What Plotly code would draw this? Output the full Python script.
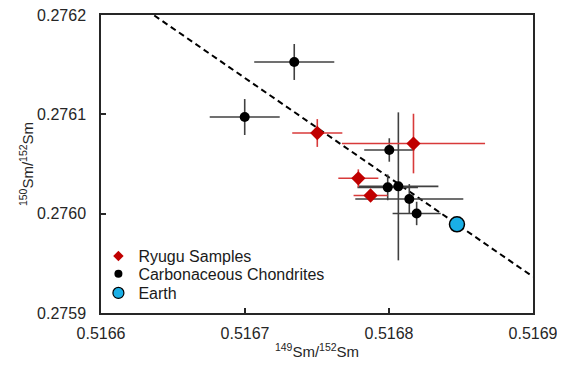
import plotly.graph_objects as go

# Ryugu samples
ryugu_x = [0.5167502, 0.5168170, 0.5167787, 0.5167872]
ryugu_y = [0.2760812, 0.2760706, 0.2760356, 0.2760183]
ryugu_xerr = [0.0000174, 0.0000497, 0.0000139, 0.0000118]
ryugu_yerr = [0.0000140, 0.0000300, 0.0000090, 0.0000040]

# Carbonaceous chondrites
cc_x = [0.5167342, 0.5166998, 0.5168002, 0.5167991, 0.5168065, 0.5168141, 0.5168192]
cc_y = [0.2761527, 0.2760973, 0.2760641, 0.2760265, 0.2760275, 0.2760148, 0.2760002]
cc_xerr = [0.0000278, 0.0000243, 0.0000174, 0.0000210, 0.0000278, 0.0000375, 0.0000167]
cc_yerr = [0.0000181, 0.0000181, 0.0000118, 0.0000130, 0.0000745, 0.0000150, 0.0000118]

# Earth
earth_x = [0.5168472]
earth_y = [0.2759893]

# Reference line (slope -1 through Earth)
line_x = [0.516637, 0.5169]
line_slope = -1.0
line_y = [earth_y[0] + line_slope * (x - earth_x[0]) for x in line_x]

x_ticks = [0.5166, 0.5167, 0.5168, 0.5169]
y_ticks = [0.2759, 0.2760, 0.2761, 0.2762]

FONT = "Arial, Liberation Sans, sans-serif"

fig = go.Figure()

fig.add_trace(go.Scatter(
    x=line_x, y=line_y, mode="lines",
    line=dict(color="black", width=2, dash="6px,4px"),
    showlegend=False, hoverinfo="skip"))

fig.add_trace(go.Scatter(
    x=cc_x, y=cc_y, mode="markers",
    marker=dict(color="black", size=10, symbol="circle"),
    error_x=dict(type="data", array=cc_xerr, color="#404040", thickness=1.6, width=0),
    error_y=dict(type="data", array=cc_yerr, color="#404040", thickness=1.6, width=0),
    showlegend=False))

fig.add_trace(go.Scatter(
    x=ryugu_x, y=ryugu_y, mode="markers",
    marker=dict(color="#C00000", size=11, symbol="diamond"),
    error_x=dict(type="data", array=ryugu_xerr, color="#D83A3A", thickness=1.6, width=0),
    error_y=dict(type="data", array=ryugu_yerr, color="#D83A3A", thickness=1.6, width=0),
    showlegend=False))

fig.add_trace(go.Scatter(
    x=earth_x, y=earth_y, mode="markers",
    marker=dict(color="#1AAFE6", size=15, symbol="circle", line=dict(color="black", width=1.5)),
    showlegend=False))

# legend entries (one legend each, for exact row spacing)
fig.add_trace(go.Scatter(x=[None], y=[None], mode="markers", name="Ryugu Samples",
                         marker=dict(color="#C00000", size=8, symbol="diamond"),
                         legend="legend"))
fig.add_trace(go.Scatter(x=[None], y=[None], mode="markers", name="Carbonaceous Chondrites",
                         marker=dict(color="black", size=8, symbol="circle"),
                         legend="legend2"))
fig.add_trace(go.Scatter(x=[None], y=[None], mode="markers", name="Earth",
                         marker=dict(color="#1AAFE6", size=11, symbol="circle",
                                     line=dict(color="black", width=1.2)),
                         legend="legend3"))

leg_common = dict(x=-0.006, xanchor="left", yanchor="middle",
                  bgcolor="rgba(0,0,0,0)", font=dict(size=16, color="#1a1a1a"))

# page body has an 8px margin, so the figure is sized and offset to fit the 565x366 window
fig.update_layout(
    width=557, height=358,
    margin=dict(l=93, r=32, t=7, b=53),
    paper_bgcolor="white", plot_bgcolor="white",
    font=dict(family=FONT, size=16, color="#262626"),
    showlegend=True,
    legend=dict(y=0.191, **leg_common),
    legend2=dict(y=0.131, **leg_common),
    legend3=dict(y=0.067, **leg_common),
    xaxis=dict(range=[0.5166, 0.5169], tickvals=x_ticks,
               ticktext=[f"{v:.4f}" for v in x_ticks],
               showgrid=False, zeroline=False, showline=True, mirror=True,
               linecolor="#262626", linewidth=1.5, automargin=False,
               ticklabeloverflow="allow",
               ticks="inside", ticklen=5, tickwidth=1.5, tickcolor="#262626",
               ticklabelstandoff=5,
               title=dict(text="<sup>149</sup>Sm/<sup>152</sup>Sm", font=dict(size=15), standoff=6)),
    yaxis=dict(range=[0.2759, 0.2762], tickvals=y_ticks,
               ticktext=[f"{v:.4f}" for v in y_ticks],
               showgrid=False, zeroline=False, showline=True, mirror=True,
               linecolor="#262626", linewidth=1.5, automargin=False,
               ticklabeloverflow="allow",
               ticks="inside", ticklen=5, tickwidth=1.5, tickcolor="#262626",
               ticklabelstandoff=10,
               title=dict(text="<sup>150</sup>Sm/<sup>152</sup>Sm", font=dict(size=15), standoff=0)),
)

fig.write_html("out.html")
